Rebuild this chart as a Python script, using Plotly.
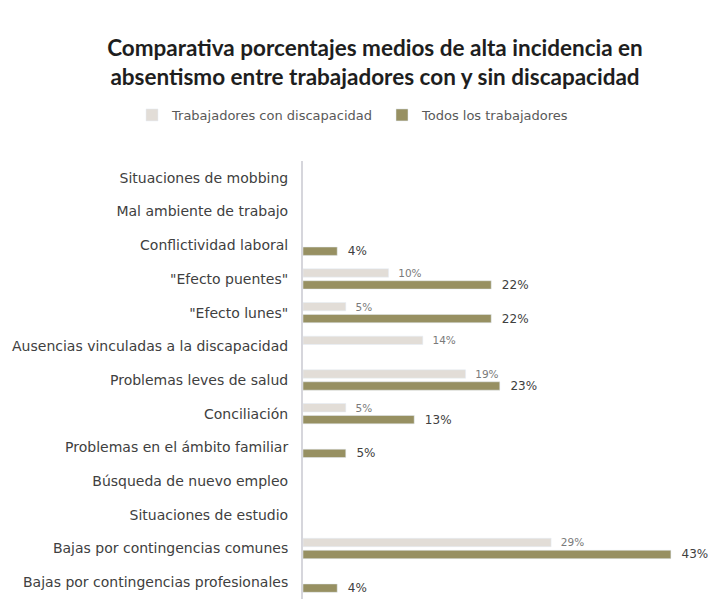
import plotly.graph_objects as go

categories = [
    "Situaciones de mobbing",
    "Mal ambiente de trabajo",
    "Conflictividad laboral",
    "\"Efecto puentes\"",
    "\"Efecto lunes\"",
    "Ausencias vinculadas a la discapacidad",
    "Problemas leves de salud",
    "Conciliación",
    "Problemas en el ámbito familiar",
    "Búsqueda de nuevo empleo",
    "Situaciones de estudio",
    "Bajas por contingencias comunes",
    "Bajas por contingencias profesionales",
]
con_discapacidad = [None, None, None, 10, 5, 14, 19, 5, None, None, None, 29, None]
todos = [None, None, 4, 22, 22, None, 23, 13, 5, None, None, 43, 4]
series_names = ["Trabajadores con discapacidad", "Todos los trabajadores"]

W, H = 718, 601
OFF = 8  # page body margin offset
FONT = "DejaVu Sans, sans-serif"
NB = "\u00a0\u00a0"

fig = go.Figure()
fig.add_trace(go.Bar(
    y=categories, x=con_discapacidad, orientation="h", name=series_names[0],
    marker=dict(color="#e2ddd7"), legend="legend",
    texttemplate=NB + "%{x}%", textposition="outside", cliponaxis=False,
    constraintext="none",
    textfont=dict(family=FONT, size=10.5, color="#7a7a7a"),
))
fig.add_trace(go.Bar(
    y=categories, x=todos, orientation="h", name=series_names[1],
    marker=dict(color="#979062"), legend="legend2",
    texttemplate=NB + "%{x}%", textposition="outside", cliponaxis=False,
    constraintext="none",
    textfont=dict(family=FONT, size=12, color="#404040"),
))

leg_common = dict(
    orientation="h", xref="container", xanchor="left",
    y=1 - (115 - OFF) / H, yref="container", yanchor="middle",
    font=dict(family=FONT, size=13, color="#595959"),
    itemwidth=30, bgcolor="rgba(0,0,0,0)",
)

fig.update_layout(
    width=W, height=H,
    paper_bgcolor="white", plot_bgcolor="white",
    barmode="group", bargap=0.29, bargroupgap=0.3,
    margin=dict(l=303 - OFF, r=W - (700 - OFF), t=161 - OFF, b=H - (599 - OFF),
                autoexpand=False),
    title=dict(
        text="Comparativa porcentajes medios de alta incidencia en<br>absentismo entre trabajadores con y sin discapacidad",
        x=(375 - OFF) / W, xref="container", xanchor="center",
        y=1 - (56 - OFF) / H, yref="container", yanchor="middle",
        font=dict(family="Lato, Open Sans, sans-serif", size=22.5, color="#1e1e1e", weight="bold"),
    ),
    legend=dict(leg_common, x=(132 - OFF) / W),
    legend2=dict(leg_common, x=(382 - OFF) / W),
    showlegend=True,
    font=dict(family=FONT),
)
fig.update_xaxes(range=[0, 46.4], visible=False, showgrid=False, zeroline=False,
                 automargin=False)
fig.update_yaxes(
    autorange="reversed", showgrid=False, zeroline=False, automargin=False,
    showline=True, linecolor="#d6d6dc", linewidth=2,
    ticks="", ticklabelstandoff=10,
    tickfont=dict(family=FONT, size=14, color="#404040"),
)

fig.write_html("out.html")
